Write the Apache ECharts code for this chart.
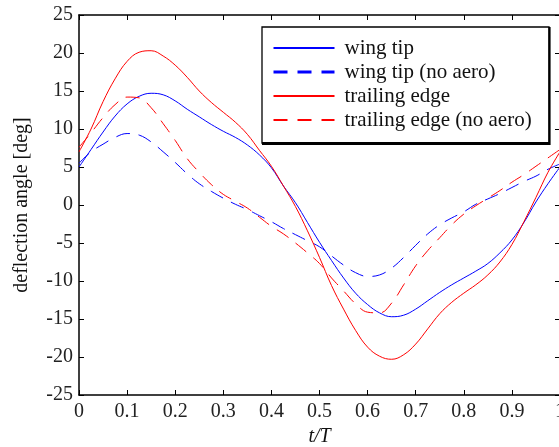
<!DOCTYPE html>
<html>
<head>
<meta charset="utf-8">
<script src="https://cdn.jsdelivr.net/npm/echarts@6/dist/echarts.min.js"></script>
<style>
html,body{margin:0;padding:0;background:#fff;}
#chart{width:559px;height:447px;}
</style>
</head>
<body>
<div id="chart"></div>
<script>
const tValues = [0,0.025,0.05,0.075,0.1,0.125,0.15,0.175,0.2,0.225,0.25,0.275,0.3,0.325,0.35,0.375,0.4,0.425,0.45,0.475,0.5,0.525,0.55,0.575,0.6,0.625,0.65,0.675,0.7,0.725,0.75,0.775,0.8,0.825,0.85,0.875,0.9,0.925,0.95,0.975,1];

const wingTip = [5.0,7.3,9.6,11.7,13.3,14.3,14.7,14.5,13.7,12.6,11.6,10.6,9.7,8.9,7.9,6.6,4.9,2.5,0.3,-2.3,-4.9,-7.3,-9.6,-11.6,-13.1,-14.2,-14.7,-14.5,-13.7,-12.6,-11.5,-10.5,-9.6,-8.7,-7.7,-6.3,-4.6,-2.3,0.4,2.8,5.0];

const wingTipNoAero = [5.5,7.0,8.0,8.9,9.4,9.2,8.3,7.0,5.6,4.1,2.8,1.8,0.9,0.1,-0.6,-1.4,-2.2,-3.1,-3.9,-4.7,-5.5,-6.7,-7.9,-8.9,-9.4,-9.2,-8.3,-6.9,-5.3,-3.8,-2.6,-1.7,-0.9,0.1,0.8,1.5,2.3,3.1,3.8,4.7,5.4];

const trailingEdge = [7.0,10.0,13.6,16.6,18.9,20.1,20.3,19.6,18.4,16.8,15.0,13.5,12.2,10.9,9.3,7.2,5.1,2.5,-0.2,-3.4,-6.9,-10.6,-13.7,-16.5,-18.7,-19.9,-20.3,-19.7,-18.3,-16.3,-14.3,-12.8,-11.6,-10.5,-9.2,-7.5,-5.2,-2.2,1.0,4.3,7.0];

const trailingEdgeNoAero = [7.6,9.5,11.5,13.2,14.2,14.1,12.8,10.7,8.5,6.1,4.3,2.7,1.4,0.5,-0.4,-1.6,-2.8,-3.8,-5.0,-6.3,-7.7,-9.6,-11.3,-13.0,-14.1,-14.2,-12.9,-10.5,-8.0,-6.0,-4.3,-2.6,-1.2,-0.1,0.9,1.9,3.0,4.0,5.1,6.2,7.3];

const seriesNames = ['wing tip','wing tip (no aero)','trailing edge','trailing edge (no aero)'];

function pairs(arr){ return tValues.map((t,i)=>[t,arr[i]]); }

const FONT = '"Liberation Serif", "DejaVu Serif", serif';
const chart = echarts.init(document.getElementById('chart'), null, {renderer:'canvas'});

const axisCommon = {
  axisLine:{show:true,onZero:false,lineStyle:{color:'#000',width:1.5}},
  axisTick:{show:true,inside:true,length:5,lineStyle:{color:'#000',width:1}},
  splitLine:{show:false}
};
const hiddenSymbol = {color:'transparent',opacity:0,borderWidth:0};

chart.setOption({
  animation:false,
  backgroundColor:'#fff',
  grid:{left:79,right:-1,top:15,bottom:52,containLabel:false,outerBoundsMode:'none'},
  xAxis:[
    Object.assign({type:'value',min:0,max:1,interval:0.1,position:'bottom',
      name:'t/T',nameLocation:'middle',nameGap:31,
      nameTextStyle:{fontFamily:FONT,fontSize:20,fontStyle:'italic',color:'#111'},
      axisLabel:{fontFamily:FONT,fontSize:20,color:'#222',margin:7}},axisCommon),
    Object.assign({type:'value',min:0,max:1,interval:0.1,position:'top',
      axisLabel:{show:false}},axisCommon)
  ],
  yAxis:[
    Object.assign({type:'value',min:-25,max:25,interval:5,position:'left',
      name:'deflection angle [deg]',nameLocation:'middle',nameGap:47,
      nameTextStyle:{fontFamily:FONT,fontSize:20,color:'#111'},
      axisLabel:{fontFamily:FONT,fontSize:20,color:'#222',margin:6}},axisCommon),
    Object.assign({type:'value',min:-25,max:25,interval:5,position:'right',
      axisLabel:{show:false}},axisCommon)
  ],
  legend:{
    orient:'vertical',left:272,top:36,padding:0,itemGap:0,
    itemWidth:61,itemHeight:14,
    itemStyle:hiddenSymbol,
    textStyle:{fontFamily:FONT,fontSize:21,lineHeight:24,color:'#111',padding:[0,0,0,5]},
    data:[
      {name:seriesNames[0],lineStyle:{width:2},itemStyle:hiddenSymbol},
      {name:seriesNames[1],lineStyle:{width:3,type:[14,10]},itemStyle:hiddenSymbol},
      {name:seriesNames[2],lineStyle:{width:2},itemStyle:hiddenSymbol},
      {name:seriesNames[3],lineStyle:{width:2,type:[14,10]},itemStyle:hiddenSymbol}
    ]
  },
  graphic:[
    {type:'rect',shape:{x:262,y:27,width:287,height:116},style:{fill:'#fff',stroke:'#000',lineWidth:1.3},z:-1},
    {type:'line',shape:{x1:262,y1:143.5,x2:550,y2:143.5},style:{stroke:'#000',lineWidth:3}},
    {type:'line',shape:{x1:549.5,y1:27,x2:549.5,y2:145},style:{stroke:'#000',lineWidth:2.2}}
  ],
  series:[
    {name:seriesNames[0],type:'line',data:pairs(wingTip),smooth:0.4,showSymbol:false,symbol:'none',
      lineStyle:{color:'#0000ff',width:1},itemStyle:{color:'#0000ff'},z:3},
    {name:seriesNames[1],type:'line',data:pairs(wingTipNoAero),smooth:0.4,showSymbol:false,symbol:'none',
      lineStyle:{color:'#0000ff',width:1,type:[14,9]},itemStyle:{color:'#0000ff'},z:3},
    {name:seriesNames[2],type:'line',data:pairs(trailingEdge),smooth:0.4,showSymbol:false,symbol:'none',
      lineStyle:{color:'#ff0000',width:1},itemStyle:{color:'#ff0000'},z:3},
    {name:seriesNames[3],type:'line',data:pairs(trailingEdgeNoAero),smooth:0.4,showSymbol:false,symbol:'none',
      lineStyle:{color:'#ff0000',width:1,type:[14,9]},itemStyle:{color:'#ff0000'},z:3}
  ]
});
</script>
</body>
</html>
